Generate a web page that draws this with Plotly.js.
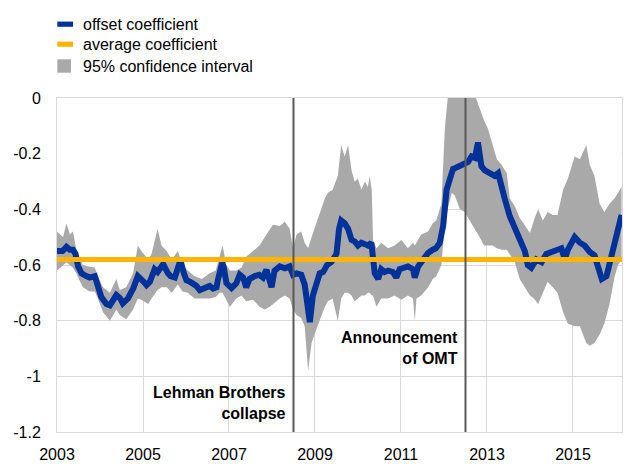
<!DOCTYPE html>
<html><head><meta charset="utf-8">
<script src="https://cdn.plot.ly/plotly-3.0.1.min.js"></script>
<style>html,body{margin:0;padding:0;background:#fff}#chart{width:634px;height:475px}</style>
</head><body><div id="chart"></div>
<script>
// ---- data ----
const lineYears = [2003.00,2003.13,2003.22,2003.30,2003.37,2003.43,2003.49,2003.57,2003.68,2003.76,2003.88,2003.95,2004.03,2004.15,2004.23,2004.38,2004.46,2004.53,2004.65,2004.77,2004.85,2004.88,2005.00,2005.08,2005.16,2005.27,2005.34,2005.47,2005.58,2005.64,2005.74,2005.78,2005.87,2005.95,2006.01,2006.09,2006.16,2006.24,2006.32,2006.43,2006.55,2006.63,2006.71,2006.74,2006.84,2006.88,2006.94,2007.06,2007.17,2007.25,2007.33,2007.40,2007.48,2007.60,2007.70,2007.79,2007.87,2007.99,2008.06,2008.18,2008.30,2008.41,2008.49,2008.57,2008.68,2008.76,2008.84,2008.88,2008.95,2009.03,2009.11,2009.19,2009.28,2009.38,2009.50,2009.56,2009.61,2009.69,2009.77,2009.85,2009.92,2010.00,2010.08,2010.16,2010.23,2010.31,2010.35,2010.39,2010.47,2010.54,2010.62,2010.70,2010.81,2010.89,2010.97,2011.09,2011.16,2011.28,2011.32,2011.40,2011.51,2011.63,2011.74,2011.81,2011.90,2011.98,2012.06,2012.13,2012.21,2012.29,2012.40,2012.48,2012.56,2012.64,2012.72,2012.79,2012.87,2012.95,2013.07,2013.18,2013.26,2013.34,2013.41,2013.53,2013.65,2013.76,2013.88,2013.95,2014.03,2014.15,2014.27,2014.38,2014.50,2014.61,2014.73,2014.81,2014.88,2015.04,2015.16,2015.27,2015.39,2015.50,2015.58,2015.67,2015.78,2015.89,2015.97,2016.05,2016.13];
const offsetCoefficient = [-0.55,-0.55,-0.535,-0.545,-0.545,-0.56,-0.605,-0.63,-0.64,-0.645,-0.64,-0.675,-0.715,-0.74,-0.745,-0.708,-0.718,-0.738,-0.72,-0.685,-0.655,-0.64,-0.658,-0.672,-0.66,-0.615,-0.625,-0.597,-0.63,-0.64,-0.645,-0.62,-0.583,-0.63,-0.655,-0.66,-0.665,-0.675,-0.69,-0.682,-0.675,-0.685,-0.68,-0.655,-0.593,-0.61,-0.665,-0.683,-0.666,-0.635,-0.645,-0.68,-0.65,-0.64,-0.635,-0.645,-0.617,-0.68,-0.62,-0.605,-0.612,-0.605,-0.635,-0.63,-0.635,-0.67,-0.785,-0.805,-0.71,-0.66,-0.63,-0.625,-0.6,-0.59,-0.56,-0.47,-0.44,-0.45,-0.47,-0.51,-0.515,-0.53,-0.52,-0.525,-0.53,-0.52,-0.56,-0.63,-0.65,-0.615,-0.625,-0.62,-0.625,-0.645,-0.615,-0.61,-0.605,-0.615,-0.645,-0.605,-0.58,-0.557,-0.545,-0.54,-0.521,-0.46,-0.33,-0.29,-0.255,-0.25,-0.242,-0.24,-0.23,-0.21,-0.215,-0.16,-0.245,-0.26,-0.27,-0.28,-0.27,-0.33,-0.36,-0.425,-0.47,-0.51,-0.55,-0.6,-0.61,-0.58,-0.59,-0.56,-0.552,-0.545,-0.54,-0.58,-0.545,-0.5,-0.52,-0.53,-0.553,-0.565,-0.6,-0.65,-0.64,-0.57,-0.53,-0.46,-0.42];

const bandYears = [2003.00,2003.14,2003.22,2003.30,2003.37,2003.45,2003.60,2003.76,2003.88,2003.95,2004.07,2004.23,2004.38,2004.46,2004.61,2004.77,2004.88,2004.96,2005.12,2005.20,2005.34,2005.43,2005.55,2005.67,2005.81,2005.92,2006.04,2006.20,2006.37,2006.55,2006.69,2006.78,2006.85,2006.94,2007.02,2007.17,2007.29,2007.40,2007.56,2007.71,2007.83,2007.95,2008.02,2008.18,2008.30,2008.41,2008.49,2008.57,2008.68,2008.76,2008.84,2008.92,2009.01,2009.11,2009.23,2009.30,2009.41,2009.53,2009.61,2009.69,2009.77,2009.85,2009.92,2010.00,2010.08,2010.16,2010.23,2010.27,2010.32,2010.35,2010.43,2010.54,2010.70,2010.85,2011.01,2011.16,2011.28,2011.32,2011.36,2011.47,2011.63,2011.74,2011.82,2011.94,2012.02,2012.10,2012.18,2012.25,2012.37,2012.48,2012.60,2012.72,2012.83,2012.93,2013.02,2013.13,2013.23,2013.34,2013.46,2013.53,2013.65,2013.76,2013.88,2014.00,2014.09,2014.19,2014.30,2014.41,2014.53,2014.64,2014.77,2014.88,2015.04,2015.16,2015.31,2015.39,2015.50,2015.62,2015.73,2015.85,2015.97,2016.05,2016.13];
const ciUpper = [-0.48,-0.50,-0.45,-0.49,-0.48,-0.545,-0.60,-0.605,-0.61,-0.64,-0.68,-0.70,-0.65,-0.69,-0.68,-0.63,-0.53,-0.55,-0.58,-0.56,-0.47,-0.53,-0.55,-0.58,-0.55,-0.60,-0.62,-0.64,-0.65,-0.63,-0.62,-0.57,-0.53,-0.60,-0.62,-0.62,-0.61,-0.57,-0.55,-0.53,-0.50,-0.47,-0.455,-0.46,-0.445,-0.47,-0.54,-0.49,-0.48,-0.52,-0.54,-0.50,-0.46,-0.42,-0.36,-0.34,-0.33,-0.28,-0.17,-0.21,-0.17,-0.26,-0.30,-0.29,-0.33,-0.30,-0.32,-0.28,-0.33,-0.51,-0.54,-0.52,-0.54,-0.53,-0.51,-0.54,-0.52,-0.53,-0.52,-0.49,-0.48,-0.45,-0.44,-0.38,-0.11,0.02,0.02,0.02,0.02,0.02,0.02,0.01,-0.04,-0.08,-0.11,-0.17,-0.22,-0.24,-0.27,-0.36,-0.39,-0.43,-0.46,-0.485,-0.44,-0.40,-0.44,-0.41,-0.42,-0.42,-0.33,-0.29,-0.21,-0.22,-0.17,-0.24,-0.28,-0.38,-0.41,-0.38,-0.36,-0.34,-0.32];
const ciLower = [-0.62,-0.60,-0.59,-0.60,-0.61,-0.63,-0.68,-0.695,-0.695,-0.72,-0.77,-0.80,-0.76,-0.78,-0.795,-0.76,-0.72,-0.725,-0.74,-0.72,-0.69,-0.68,-0.68,-0.70,-0.67,-0.695,-0.70,-0.72,-0.72,-0.72,-0.715,-0.70,-0.70,-0.725,-0.75,-0.72,-0.71,-0.73,-0.725,-0.75,-0.76,-0.75,-0.74,-0.72,-0.71,-0.72,-0.76,-0.78,-0.79,-0.82,-0.98,-0.88,-0.84,-0.80,-0.75,-0.73,-0.72,-0.80,-0.72,-0.70,-0.70,-0.71,-0.73,-0.72,-0.71,-0.71,-0.70,-0.70,-0.71,-0.71,-0.75,-0.72,-0.72,-0.71,-0.725,-0.71,-0.72,-0.80,-0.72,-0.71,-0.68,-0.65,-0.64,-0.60,-0.45,-0.39,-0.34,-0.35,-0.40,-0.41,-0.44,-0.47,-0.50,-0.53,-0.53,-0.53,-0.54,-0.545,-0.545,-0.56,-0.59,-0.65,-0.68,-0.71,-0.72,-0.74,-0.70,-0.66,-0.68,-0.70,-0.77,-0.81,-0.82,-0.82,-0.88,-0.89,-0.88,-0.85,-0.81,-0.74,-0.64,-0.60,-0.58];

const averageYears = [2003.00, 2016.14];
const averageCoefficient = [-0.58, -0.58];

const eventYears = [2008.5, 2012.5];
const eventValues = [-1.096, -0.897];
const eventLabels = ["Lehman Brothers<br>collapse", "Announcement<br>of OMT"];

const seriesNames = ["offset coefficient", "average coefficient", "95% confidence interval"];

const xTickVals = [2003, 2005, 2007, 2009, 2011, 2013, 2015];
const xTickLabels = ["2003", "2005", "2007", "2009", "2011", "2013", "2015"];
const yTickVals = [0, -0.2, -0.4, -0.6, -0.8, -1, -1.2];
const yTickLabels = ["0", "-0.2", "-0.4", "-0.6", "-0.8", "-1", "-1.2"];

// ---- styling / layout ----
const BLUE = "#003299", ORANGE = "#FFB400", GREY = "#A9A9A9", GRID = "#D9D9D9";
const FONT = "Arial, 'Liberation Sans', sans-serif";
const W = 634, H = 475, M = {l: 57, r: 12, t: 98, b: 43};
const pw = W - M.l - M.r, ph = H - M.t - M.b;
const px = v => (v - M.l) / pw;          // pixel x -> paper
const py = v => (H - M.b - v) / ph;      // pixel y -> paper

const traces = [
  {x: bandYears, y: ciUpper, type: "scatter", mode: "lines", line: {width: 0, color: "#ffffff"},
   fill: "tozeroy", fillcolor: "#ffffff", hoverinfo: "skip", showlegend: false},
  {x: bandYears, y: ciLower, type: "scatter", mode: "lines", line: {width: 0, color: GREY},
   fill: "tonexty", fillcolor: GREY, name: seriesNames[2], showlegend: false},
  {x: lineYears, y: offsetCoefficient, type: "scatter", mode: "lines",
   line: {color: BLUE, width: 6}, name: seriesNames[0], showlegend: false},
  {x: averageYears, y: averageCoefficient, type: "scatter", mode: "lines",
   line: {color: ORANGE, width: 5}, name: seriesNames[1], showlegend: false}
];

const shapes = eventYears.map(yr => ({
  type: "line", xref: "x", yref: "paper", x0: yr, x1: yr, y0: 0, y1: 1,
  line: {color: "#595959", width: 2}, layer: "above"
}));
// legend symbols
shapes.push({type: "rect", xref: "paper", yref: "paper", x0: px(57.3), x1: px(73), y0: py(26.8), y1: py(21.6), fillcolor: BLUE, line: {width: 0}});
shapes.push({type: "rect", xref: "paper", yref: "paper", x0: px(57.3), x1: px(73), y0: py(46.8), y1: py(41.6), fillcolor: ORANGE, line: {width: 0}});
shapes.push({type: "rect", xref: "paper", yref: "paper", x0: px(57.3), x1: px(71), y0: py(72.7), y1: py(59.3), fillcolor: GREY, line: {width: 0}});

const annotations = eventYears.map((yr, i) => ({
  xref: "x", yref: "y", x: yr, y: eventValues[i], text: "<b>" + eventLabels[i] + "</b>",
  showarrow: false, xanchor: "right", yanchor: "middle", align: "right", xshift: -5,
  font: {family: FONT, size: 16, color: "#000"}
}));
const legendY = [24.2, 44.6, 66.4];
seriesNames.forEach((nm, i) => annotations.push({
  xref: "paper", yref: "paper", x: px(81), y: py(legendY[i]), text: nm, showarrow: false,
  xanchor: "left", yanchor: "middle", font: {family: FONT, size: 16, color: "#000"}
}));

const layout = {
  width: W, height: H, margin: M, paper_bgcolor: "#fff", plot_bgcolor: "#fff",
  font: {family: FONT, size: 16, color: "#000"}, showlegend: false,
  xaxis: {range: [2003, 2016.14], tickvals: xTickVals, ticktext: xTickLabels, showgrid: true,
          gridcolor: GRID, gridwidth: 1, zeroline: false, showline: true, mirror: true, linecolor: GRID,
          ticks: "", ticklabelstandoff: 8, tickfont: {size: 16, color: "#000"}, fixedrange: true},
  yaxis: {range: [-1.2, 0], tickvals: yTickVals, ticktext: yTickLabels, showgrid: true,
          gridcolor: GRID, gridwidth: 1, zeroline: false, showline: true, mirror: true, linecolor: GRID,
          ticks: "", ticklabelstandoff: 12, tickfont: {size: 16, color: "#000"}, fixedrange: true},
  shapes: shapes, annotations: annotations
};

Plotly.newPlot("chart", traces, layout, {displayModeBar: false, staticPlot: true});
</script>
</body></html>
